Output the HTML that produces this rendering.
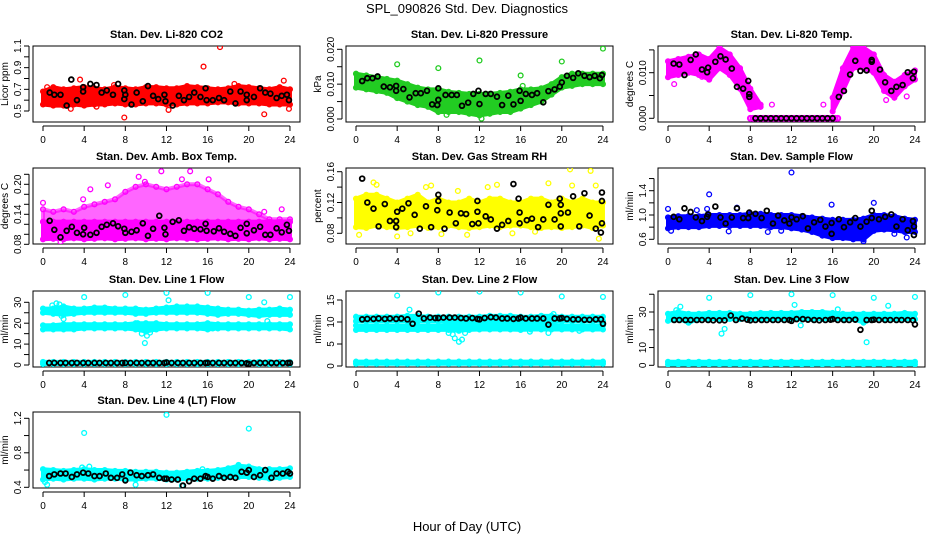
<!DOCTYPE html>
<html><head><meta charset="utf-8">
<style>
html,body{margin:0;padding:0;background:#fff;}
svg{display:block;font-family:"Liberation Sans",sans-serif;}
</style></head>
<body>
<svg id="chart" width="936" height="540" viewBox="0 0 936 540" xmlns="http://www.w3.org/2000/svg">
<rect x="0" y="0" width="936" height="540" fill="#fff"/>
<text x="467" y="13" font-size="13" text-anchor="middle">SPL_090826  Std. Dev. Diagnostics</text>
<text x="467" y="531" font-size="13" text-anchor="middle">Hour of Day (UTC)</text>
</svg>
<script>
// ---------- data ----------
var bandHours=[0,1,2,3,4,5,6,7,8,9,10,11,12,13,14,15,16,17,18,19,20,21,22,23,24];
var xTicks=[0,4,8,12,16,20,24];

var co2Lo=[0.56,0.55,0.55,0.56,0.55,0.56,0.56,0.57,0.56,0.56,0.57,0.57,0.56,0.56,0.57,0.57,0.57,0.58,0.58,0.57,0.57,0.57,0.56,0.56,0.56];
var co2Hi=[0.68,0.72,0.70,0.71,0.72,0.71,0.70,0.72,0.71,0.70,0.72,0.72,0.71,0.71,0.73,0.72,0.71,0.70,0.71,0.73,0.72,0.71,0.70,0.72,0.70];
var co2OutX=[3.6,15.6,17.2,7.9,21.5,23.4,23.9,5.2,12.2,2.7,18.6,0.4,6.9];
var co2OutY=[0.79,0.91,1.09,0.44,0.47,0.78,0.52,0.54,0.51,0.52,0.75,0.72,0.74];
var co2BlkX=[0.65,1.1,1.7,2.3,2.75,3.3,3.9,3.9,4.6,5.2,5.7,6.2,6.8,7.3,7.9,8,7.9,8.6,9.1,9.7,10.2,10.7,11.2,11.8,11.9,12.6,13.2,13.7,14.2,14.7,15.3,15.8,15.9,16.5,17.1,17.6,18.2,18.7,19.2,19.8,19.8,20.5,21.1,21.6,22.1,22.7,23.2,23.7,23.9];
var co2BlkY=[0.67,0.65,0.65,0.55,0.79,0.6,0.68,0.72,0.75,0.74,0.67,0.69,0.65,0.75,0.69,0.65,0.61,0.56,0.67,0.59,0.73,0.64,0.61,0.65,0.59,0.55,0.64,0.6,0.63,0.67,0.63,0.71,0.6,0.6,0.62,0.6,0.68,0.57,0.68,0.65,0.6,0.63,0.71,0.67,0.66,0.62,0.64,0.65,0.6];

var presLo=[.009,.0085,.008,.0075,.006,.005,.004,.0035,.002,.002,.002,.0015,.001,.0015,.002,.002,.003,.004,.005,.007,.009,.0095,.010,.010,.010];
var presHi=[.013,.0125,.012,.0115,.011,.010,.009,.0085,.0085,.0078,.0075,.0072,.0072,.0072,.0075,.0078,.0085,.0085,.0088,.010,.012,.013,.013,.013,.013];
var presOutX=[4,8,12,16,20,24,12.2,8.8,16.2];
var presOutY=[.0157,.0146,.0168,.0125,.0165,.0202,.0001,.0012,.0095];
var presBlkX=[0.6,1.1,1.6,2.1,2.7,3.3,3.9,3.9,4.6,5.2,5.8,6.3,6.9,7.4,7.9,8,8,8.7,9.3,9.8,10.3,10.9,11.4,11.9,12,12.6,13.1,13.7,14.2,14.8,15.3,15.9,16,16.5,17.1,17.6,18.2,18.7,19.3,19.8,20,20.5,21.1,21.6,22.2,22.7,23.2,23.7,23.9];
var presBlkY=[.0109,.0117,.0117,.0122,.0093,.0091,.0095,.0081,.0086,.0062,.0074,.0074,.0081,.0042,.004,.0088,.0055,.0069,.0069,.0069,.0038,.0047,.0072,.0081,.0043,.0072,.0072,.0064,.004,.0067,.0042,.0081,.0052,.0072,.0069,.0074,.0048,.008,.0085,.0093,.0105,.0124,.0118,.0131,.0124,.012,.0124,.0117,.0126];

var tempLo=[.009,.0095,.010,.0095,.0085,.011,.0095,.0065,.002,.0025,null,null,null,null,null,null,.0015,.006,.011,.011,.010,.006,.0045,.007,.0085];
var tempHi=[.0125,.013,.0135,.014,.013,.0155,.014,.011,.0065,.003,null,null,null,null,null,null,.0045,.011,.0155,.0155,.014,.0095,.008,.0095,.0105];
var tempOutX=[0.6,10.1,15.1,21.2,23.2,3.3,4.0];
var tempOutY=[.0075,.003,.003,.004,.0048,.0091,.0085];
var tempZeroX=[8,8.25,8.5,8.75,9,9.25,9.5,9.75,10,10.25,10.5,10.75,11,11.25,11.5,11.75,12,12.25,12.5,12.75,13,13.25,13.5,13.75,14,14.25,14.5,14.75,15,15.25,15.5,15.75,16,16.25,16.5];
var tempBlkX=[0.55,1.1,1.6,2.2,2.7,3.3,3.8,3.9,4.6,5.1,5.6,6.2,6.7,7.3,7.8,7.9,7.9,8.5,9,9.5,10,10.5,11,11.5,12,12.5,13,13.5,14,14.5,15,15.5,16,16.6,17.1,17.7,18.2,18.7,19.3,19.8,19.8,20.6,21.1,21.7,22.2,22.8,23.3,23.8,23.9];
var tempBlkY=[.012,.0118,.0095,.0128,.014,.0107,.0101,.0111,.0124,.0136,.0129,.0109,.0069,.0065,.0082,.0053,.0047,0,0,0,0,0,0,0,0,0,0,0,0,0,0,0,0,.0047,.006,.0096,.0126,.0104,.0105,.0128,.0124,.0107,.0079,.006,.0069,.0073,.0101,.0088,.0102];

var ambLo=[.09,.091,.09,.092,.09,.091,.092,.09,.091,.092,.09,.091,.09,.092,.091,.09,.091,.092,.09,.091,.09,.092,.09,.091,.09];
var ambMid=[.125,.125,.125,.125,.125,.125,.125,.125,.125,.125,.125,.125,.125,.125,.125,.125,.125,.125,.125,.125,.125,.125,.125,.125,.125];
var ambHi=[.15,.145,.15,.145,.155,.16,.165,.17,.185,.195,.20,.195,.19,.195,.20,.20,.19,.18,.165,.155,.15,.14,.13,.13,.13];
var ambOutX=[0,4.6,3.9,6.3,9.3,11.5,14.3,13.5,16.1,21.5,23.2,8.5,1.7,9.9];
var ambOutY=[.163,.19,.17,.198,.215,.226,.226,.21,.21,.145,.15,.073,.085,.205];
var ambBlkX=[0.65,1.1,1.7,2.3,2.8,3.3,3.9,4,4.6,5.2,5.7,6.2,6.8,7.3,7.9,8,8.6,9.1,9.7,10.2,10.7,11.3,11.8,11.9,12.6,13.2,13.7,14.2,14.7,15.3,15.8,15.9,16.6,17.1,17.6,18.2,18.7,19.2,19.8,19.8,20.5,21.1,21.6,22.1,22.7,23.2,23.7,23.9];
var ambBlkY=[.127,.109,.094,.107,.115,.103,.1,.113,.099,.103,.115,.119,.122,.116,.111,.103,.105,.108,.122,.097,.111,.137,.113,.1,.125,.128,.107,.114,.111,.11,.121,.107,.106,.112,.105,.101,.097,.113,.121,.102,.108,.115,.099,.099,.112,.104,.119,.107];

var rhLo=[.088,.087,.09,.088,.087,.088,.09,.087,.088,.09,.088,.087,.088,.09,.088,.09,.09,.088,.087,.088,.087,.088,.09,.087,.09];
var rhHi=[.125,.13,.13,.125,.12,.125,.13,.12,.125,.12,.12,.125,.12,.125,.125,.12,.12,.125,.125,.12,.125,.12,.125,.12,.12];
var rhOutX=[1.7,2,7.3,13.7,18.7,20.8,22.8,23.3,23.6,4,9.9,6.8,12.8,21,0.3,5.3,8.3,15.2,10.8,17.4];
var rhOutY=[.146,.143,.142,.143,.145,.163,.161,.142,.073,.076,.135,.14,.14,.142,.078,.08,.079,.08,.078,.082];
var rhBlkX=[0.6,1.1,1.7,2.2,2.8,3.3,3.9,3.9,4,4.5,5.1,5.7,6.2,6.8,7.3,7.9,8,8,8.6,9.1,9.7,10.2,10.7,11.3,11.8,11.8,11.9,12.6,13.1,13.7,14.2,14.8,15.3,15.8,15.9,15.9,16.6,17.1,17.7,18.2,18.7,19.3,19.8,19.9,19.9,19.9,20.6,21.1,21.7,22.2,22.7,23.3,23.9,23.9,23.9,23.8];
var rhBlkY=[.151,.12,.112,.089,.118,.096,.096,.088,.108,.112,.119,.104,.086,.115,.088,.11,.13,.122,.086,.107,.093,.106,.105,.092,.122,.108,.093,.102,.098,.086,.091,.096,.144,.125,.107,.093,.097,.099,.088,.098,.117,.098,.125,.117,.106,.089,.107,.128,.089,.132,.103,.086,.122,.133,.093,.081];

var sfLo=[.78,.8,.8,.8,.82,.82,.82,.82,.82,.82,.8,.8,.78,.76,.72,.66,.62,.62,.6,.6,.74,.76,.75,.72,.72];
var sfHi=[.96,.98,.98,.98,1.0,1.0,1.0,1.0,1.02,1.02,1.0,1.0,1.0,.98,.96,.94,.92,.92,.92,.94,1.0,1.0,.98,.94,.92];
var sfOutX=[0,4,3.8,2.8,6.7,12,15.9,20,0.3,5.9,9.7,19,23.2,22,11];
var sfOutY=[1.1,1.34,1.1,1.08,1.12,1.7,1.17,1.2,.74,.73,.72,.57,.63,.69,.74];
var sfBlkX=[0.55,1.1,1.6,2.2,2.7,3.3,3.8,3.9,4.6,5.1,5.6,6.2,6.7,7.3,7.8,7.9,8.5,9.1,9.6,10.2,10.7,11.3,11.8,12,12.5,13.1,13.6,14.2,14.8,15.3,15.9,15.9,16.6,17.1,17.7,18.2,18.7,19.3,19.8,19.8,20.5,21.1,21.7,22.2,22.8,23.3,23.8,23.9,23.9];
var sfBlkY=[.97,.93,1.11,1.05,.96,.9,.97,1.01,1.14,.96,.86,.96,1.11,.95,.95,1.04,1.02,.95,1.07,.86,.99,.91,.86,.96,.93,.98,.78,.88,.92,.81,.87,.69,.93,.8,.88,.95,.81,.89,1.07,.95,.93,.97,1.01,.81,.93,.75,.9,.81,.67];

var flowBlkX=[0.6,1.1,1.7,2.2,2.8,3.3,3.9,4.4,5.0,5.5,6.1,6.6,7.2,7.7,8.0,8.5,9.1,9.6,10.2,10.7,11.3,11.8,12.0,12.5,13.1,13.6,14.2,14.7,15.3,15.8,16.0,16.5,17.1,17.6,18.2,18.7,19.3,19.8,20.0,20.5,21.1,21.6,22.2,22.7,23.3,23.8,24.0];

var l1UpLo=[25,24.5,24,24.5,25,25,25,25,25,24.5,24.5,25,25,25,25,25,24.5,24,24.5,24.5,24,23.5,24,24,24];
var l1UpHi=[27,27,28,27,27,27.5,27.5,27,27,27,26.5,27,27.5,28,28,28,27.5,27,26.5,26.5,26,26.5,26.5,27,26.5];
var l1MidLo=[17,17,17,17,17.5,17.5,17.5,17.5,17.5,17,16,17,17.5,17.5,17.5,17.5,17,17.5,17.5,17.5,17.5,17.5,17.5,17.5,17];
var l1MidHi=[19,19,19.5,19.5,19.5,19.5,19.5,19.5,19.5,20,20,20,19.5,19.5,19.5,19.5,20,19.5,19.5,19.5,19.5,19.5,19.5,19.5,19.5];
var l1BotLo=[0.5,0.5,0.5,0.5,0.5,0.5,0.5,0.5,0.5,0.5,0.5,0.5,0.5,0.5,0.5,0.5,0.5,0.5,0.5,0.5,0.5,0.5,0.5,0.5,0.5];
var l1BotHi=[1.5,1.5,1.5,1.5,1.5,1.5,1.5,1.5,1.5,1.5,1.5,1.5,1.5,1.5,1.5,1.5,1.5,1.5,1.5,1.5,1.5,1.5,1.5,1.5,1.5];
var l1OutX=[4,8,12,16,20,24,12.2,9.9,21.5,1.6,10.1,0.9,1.3,9.6,10.4,9.2,2.0,1.8,16.5,21.8];
var l1OutY=[32.5,33.5,34.5,34.5,32.5,32.5,31,10.5,30,29,14,28.5,29.5,15,15.5,20,22,23.5,17.5,21];
var l1BlkY=[1,1,1,1,1,1,1,1,1,1,1,1,1,1,1,1,1,1,1,1,1,1,1.2,1,1,1,1,1,1,1,1,1,1,1,1,1,1,0.8,0.5,1,1,1,1,1,1,1,1];

var l2UpLo=[10.2,10.2,10.2,10.2,10.2,10.2,10.2,10.2,10.2,10.2,10.2,10.2,10.2,10.2,10.2,10.2,10.2,10.2,10.2,10.2,10.2,10.2,10.2,10.2,10.2];
var l2UpHi=[11.2,11.2,11.2,11.2,11.2,11.4,11.4,11.2,11.2,11.2,11.2,11.2,11.2,11.4,11.4,11.4,11.2,11.2,11.4,11.4,11.2,11.2,11.2,11.2,11.2];
var l2LoLo=[8.2,8.2,8.2,8.2,8.2,8.2,8.2,8.2,8.2,8.2,8.0,8.2,8.3,8.3,8.3,8.3,8.2,8.3,8.3,8.3,8.3,8.3,8.3,8.3,8.3];
var l2LoHi=[9.2,9.2,9.2,9.2,9.2,9.2,9.2,9.2,9.2,9.4,9.4,9.4,9.4,9.4,9.4,9.4,9.4,9.4,9.4,9.4,9.2,9.2,9.2,9.2,9.2];
var l2BotLo=[0.5,0.5,0.5,0.5,0.5,0.5,0.5,0.5,0.5,0.5,0.5,0.5,0.5,0.5,0.5,0.5,0.5,0.5,0.5,0.5,0.5,0.5,0.5,0.5,0.5];
var l2BotHi=[1.0,1.0,1.0,1.0,1.0,1.0,1.0,1.0,1.0,1.0,1.0,1.0,1.0,1.0,1.0,1.0,1.0,1.0,1.0,1.0,1.0,1.0,1.0,1.0,1.0];
var l2OutX=[4,8,12,16,20,24,5.2,9.6,10,18.7,21.7,16.9,9.4,19.2,10.3,10.6,9.0];
var l2OutY=[16,16.7,16.9,16.7,15.8,15.7,12.8,6.3,5.5,7.5,8,7.8,7.2,11.8,6,7.5,7.5];
var l2BlkY=[10.6,10.7,10.7,10.8,10.7,10.8,10.7,10.8,10.6,9.6,11.9,10.8,11.0,10.9,10.9,11.0,11.0,11.0,10.9,10.8,10.9,10.7,10.6,10.9,11.1,11.0,10.8,10.8,10.7,10.8,11.0,10.8,10.8,10.8,10.8,9.4,10.8,10.8,10.9,10.7,10.6,10.6,10.5,10.5,10.6,10.6,9.6];

var l3UpLo=[25,26,24,26,26,26,26,26,26,26,26,26,26,26,26,26,26,26,26,24,26,26,26,26,26];
var l3UpHi=[29,30,29,29,29.5,29.5,29.5,29,29,29.5,29.5,29.5,29.5,30,30,30,29.5,29,29,29,29,29,29,29.5,29];
var l3BotLo=[0.5,0.5,0.5,0.5,0.5,0.5,0.5,0.5,0.5,0.5,0.5,0.5,0.5,0.5,0.5,0.5,0.5,0.5,0.5,0.5,0.5,0.5,0.5,0.5,0.5];
var l3BotHi=[2,2,2,2,2,2,2,2,2,2,2,2,2,2,2,2,2,2,2,2,2,2,2,2,2];
var l3OutX=[4,8,12,16,20,24,12.3,21.4,1.2,0.8,5.2,19.3,16.5,5.5,12.9];
var l3OutY=[38,39.5,40,39.5,38,38.5,34,33.5,33,31,17.8,13,31.5,20.5,22.5];
var l3BlkY=[25.5,25.5,25.5,25.5,25.5,25.5,25.5,25.3,25.3,25.3,28,25.5,26.3,25.7,25.3,25.5,25.5,25.5,25.5,25.5,25.5,25.5,25,26,26,25.7,25.5,25.3,25.5,25.7,26,25.5,25.5,25.5,25.7,20,25.5,25.5,25.7,25.5,25.5,25.5,25.5,25.5,25.5,25.3,23];

var l4Lo=[0.49,0.5,0.49,0.5,0.5,0.49,0.5,0.5,0.49,0.49,0.5,0.5,0.49,0.49,0.5,0.5,0.5,0.51,0.52,0.52,0.52,0.51,0.5,0.51,0.52];
var l4Hi=[0.61,0.6,0.59,0.6,0.61,0.6,0.6,0.59,0.59,0.58,0.58,0.58,0.57,0.57,0.58,0.59,0.59,0.6,0.62,0.65,0.64,0.61,0.61,0.61,0.62];
var l4OutX=[4,12,20,0.4,9,13.5,19,3.8,4.5,15.5,0.2];
var l4OutY=[1.03,1.24,1.08,0.43,0.43,0.42,0.66,0.63,0.64,0.61,0.46];
var l4BlkY=[0.53,0.55,0.56,0.56,0.52,0.55,0.57,0.56,0.53,0.53,0.56,0.51,0.51,0.55,0.48,0.57,0.54,0.53,0.54,0.55,0.51,0.5,0.5,0.49,0.49,0.42,0.47,0.5,0.5,0.53,0.52,0.5,0.53,0.51,0.52,0.51,0.58,0.57,0.6,0.52,0.54,0.6,0.51,0.56,0.56,0.58,0.56];

// ---------- layout ----------
var svg=document.getElementById('chart');
var NS='http://www.w3.org/2000/svg';
var colLeft=[33,346,658], rowTop=[46,168,291,412], BOXW=267, BOXH=76;
function mk(tag,attrs,parent){var e=document.createElementNS(NS,tag);for(var k in attrs)e.setAttribute(k,attrs[k]);(parent||svg).appendChild(e);return e;}

function makePanel(spec){
  var L=colLeft[spec.col], T=rowTop[spec.row];
  var g=mk('g',{});
  
  
  var xs=function(h){return L+10+h*10.29;};
  var ys=function(v){return spec.y1+(v-spec.v1)*(spec.y2-spec.y1)/(spec.v2-spec.v1);};
  var box=mk('rect',{x:L,y:T,width:BOXW,height:BOXH,fill:'none',stroke:'#000','stroke-width':1},g);
  
  
  var t=mk('text',{x:L+BOXW/2,y:T-8,'font-size':11,'font-weight':'bold','text-anchor':'middle'},g);
  t.textContent=spec.title;
  
  
  var B=T+BOXH;
  var xa=mk('g',{},g);
  
  
  mk('line',{x1:xs(xTicks[0]),x2:xs(xTicks[xTicks.length-1]),y1:B+4,y2:B+4,stroke:'#000'},xa);
  xTicks.forEach(function(h){
    mk('line',{x1:xs(h),x2:xs(h),y1:B+4,y2:B+9,stroke:'#000'},xa);
    var tl=mk('text',{x:xs(h),y:B+21,'font-size':10,'text-anchor':'middle'},xa);
    tl.textContent=String(h);
    
    
  });
  var ya=mk('g',{},g);
  
  
  var yt=spec.yTicks;
  mk('line',{x1:L-4,x2:L-4,y1:ys(yt[0]),y2:ys(yt[yt.length-1]),stroke:'#000'},ya);
  yt.forEach(function(v){mk('line',{x1:L-9,x2:L-4,y1:ys(v),y2:ys(v),stroke:'#000'},ya);});
  spec.yLabels.forEach(function(s,i){
    var y=ys(spec.yLabelVals[i]);
    var tl=mk('text',{x:L-12,y:y,'font-size':10,'text-anchor':'middle',transform:'rotate(-90 '+(L-12)+' '+y+')'},ya);
    tl.textContent=s;
    
    
  });
  var yl=mk('text',{x:L-25,y:T+BOXH/2,'font-size':10,'text-anchor':'middle',transform:'rotate(-90 '+(L-25)+' '+(T+BOXH/2)+')'},g);
  yl.textContent=spec.ylab;
  
  
  var clipId='clip-'+spec.name;
  var cp=mk('clipPath',{id:clipId},g);
  mk('rect',{x:L,y:T,width:BOXW,height:BOXH},cp);
  var dg=mk('g',{'clip-path':'url(#'+clipId+')'},g);
  return {xs:xs,ys:ys,g:dg,name:spec.name};
}

function band(P,lo,hi,color,label,op){
  var seg=[];
  var segs=[];
  for(var i=0;i<bandHours.length;i++){
    if(lo[i]===null){if(seg.length)segs.push(seg);seg=[];}else seg.push(i);
  }
  if(seg.length)segs.push(seg);
  segs.forEach(function(s){
    var pts=[];
    s.forEach(function(i){pts.push(P.xs(bandHours[i])+','+P.ys(hi[i]));});
    s.slice().reverse().forEach(function(i){pts.push(P.xs(bandHours[i])+','+P.ys(lo[i]));});
    var poly=mk('polygon',{points:pts.join(' '),fill:color,'fill-opacity':(op||1),stroke:color,'stroke-opacity':(op||1),'stroke-width':4,'stroke-linejoin':'round'},P.g);
    
    
    s.forEach(function(i){
      [lo[i],hi[i]].forEach(function(v){
        var c=mk('circle',{cx:P.xs(bandHours[i]),cy:P.ys(v),r:2.4,fill:'none',stroke:color,'stroke-width':1.3},P.g);
        
        
      });
    });
  });
}
function pts(P,xsArr,ysArr,color,w,label){
  for(var i=0;i<xsArr.length;i++){
    var c=mk('circle',{cx:P.xs(xsArr[i]),cy:P.ys(ysArr[i]),r:2.4,fill:'none',stroke:color,'stroke-width':w},P.g);
    
    
  }
}
function zeroArr(n,v){var a=[];for(var i=0;i<n;i++)a.push(v);return a;}

var RED='#ff0000',GRN='#22cc22',MAG='#ff00ff',YEL='#ffff00',BLU='#0000ff',CYN='#00ffff',BLK='#000';
var BW=1.8;

var P;
P=makePanel({name:'co2',title:'Stan. Dev. Li-820 CO2',ylab:'Licor ppm',col:0,row:0,v1:1.1,y1:46,v2:0.5,y2:111,yTicks:[0.5,0.6,0.7,0.8,0.9,1.0,1.1],yLabels:['0.5','0.7','0.9','1.1'],yLabelVals:[0.5,0.7,0.9,1.1]});
band(P,co2Lo,co2Hi,RED,'co2-cloud');pts(P,co2OutX,co2OutY,RED,1.3,'co2-point');pts(P,co2BlkX,co2BlkY,BLK,BW,'co2-hourly-point');

P=makePanel({name:'pressure',title:'Stan. Dev. Li-820 Pressure',ylab:'kPa',col:1,row:0,v1:0.020,y1:49.3,v2:0,y2:119,yTicks:[0,0.005,0.010,0.015,0.020],yLabels:['0.000','0.010','0.020'],yLabelVals:[0,0.010,0.020]});
band(P,presLo,presHi,GRN,'pressure-cloud');pts(P,presOutX,presOutY,GRN,1.3,'pressure-point');pts(P,presBlkX,presBlkY,BLK,BW,'pressure-hourly-point');

P=makePanel({name:'temp',title:'Stan. Dev. Li-820 Temp.',ylab:'degrees C',col:2,row:0,v1:0.010,y1:72.7,v2:0,y2:118.3,yTicks:[0,0.005,0.010,0.015],yLabels:['0.000','0.010'],yLabelVals:[0,0.010]});
band(P,tempLo,tempHi,MAG,'temp-cloud');pts(P,tempOutX,tempOutY,MAG,1.3,'temp-point');pts(P,tempZeroX,zeroArr(tempZeroX.length,0),MAG,2,'temp-zero-point');pts(P,tempBlkX,tempBlkY,BLK,BW,'temp-hourly-point');

P=makePanel({name:'amb-box',title:'Stan. Dev. Amb. Box Temp.',ylab:'degrees C',col:0,row:1,v1:0.20,y1:184.3,v2:0.08,y2:244.3,yTicks:[0.08,0.10,0.12,0.14,0.16,0.18,0.20,0.22],yLabels:['0.08','0.14','0.20'],yLabelVals:[0.08,0.14,0.20]});
band(P,ambMid,ambHi,MAG,'amb-upper-cloud',0.6);band(P,ambLo,ambMid,MAG,'amb-lower-cloud');pts(P,ambOutX,ambOutY,MAG,1.3,'amb-point');pts(P,ambBlkX,ambBlkY,BLK,BW,'amb-hourly-point');

P=makePanel({name:'rh',title:'Stan. Dev. Gas Stream RH',ylab:'percent',col:1,row:1,v1:0.16,y1:171.7,v2:0.08,y2:233.3,yTicks:[0.08,0.10,0.12,0.14,0.16],yLabels:['0.08','0.12','0.16'],yLabelVals:[0.08,0.12,0.16]});
band(P,rhLo,rhHi,YEL,'rh-cloud');pts(P,rhOutX,rhOutY,YEL,1.3,'rh-point');pts(P,rhBlkX,rhBlkY,BLK,BW,'rh-hourly-point');

P=makePanel({name:'sample-flow',title:'Stan. Dev. Sample Flow',ylab:'ml/min',col:2,row:1,v1:1.4,y1:190.7,v2:0.6,y2:239.3,yTicks:[0.6,0.8,1.0,1.2,1.4,1.6],yLabels:['0.6','1.0','1.4'],yLabelVals:[0.6,1.0,1.4]});
band(P,sfLo,sfHi,BLU,'sample-flow-cloud');pts(P,sfOutX,sfOutY,BLU,1.3,'sample-flow-point');pts(P,sfBlkX,sfBlkY,BLK,BW,'sample-flow-hourly-point');

P=makePanel({name:'line1',title:'Stan. Dev. Line 1 Flow',ylab:'ml/min',col:0,row:2,v1:30,y1:302.3,v2:0,y2:365,yTicks:[0,5,10,15,20,25,30],yLabels:['0','10','20','30'],yLabelVals:[0,10,20,30]});
band(P,l1UpLo,l1UpHi,CYN,'line1-upper-cloud');band(P,l1MidLo,l1MidHi,CYN,'line1-middle-cloud');band(P,l1BotLo,l1BotHi,CYN,'line1-bottom-cloud');
pts(P,l1OutX,l1OutY,CYN,1.3,'line1-point');pts(P,flowBlkX,l1BlkY,BLK,BW,'line1-hourly-point');

P=makePanel({name:'line2',title:'Stan. Dev. Line 2 Flow',ylab:'ml/min',col:1,row:2,v1:15,y1:300,v2:0,y2:366,yTicks:[0,5,10,15],yLabels:['0','5','10','15'],yLabelVals:[0,5,10,15]});
band(P,l2UpLo,l2UpHi,CYN,'line2-upper-cloud');band(P,l2LoLo,l2LoHi,CYN,'line2-middle-cloud');band(P,l2BotLo,l2BotHi,CYN,'line2-bottom-cloud');
pts(P,l2OutX,l2OutY,CYN,1.3,'line2-point');pts(P,flowBlkX,l2BlkY,BLK,BW,'line2-hourly-point');

P=makePanel({name:'line3',title:'Stan. Dev. Line 3 Flow',ylab:'ml/min',col:2,row:2,v1:30,y1:312,v2:0,y2:365.3,yTicks:[0,10,20,30,40],yLabels:['0','10','30'],yLabelVals:[0,10,30]});
band(P,l3UpLo,l3UpHi,CYN,'line3-upper-cloud');band(P,l3BotLo,l3BotHi,CYN,'line3-bottom-cloud');
pts(P,l3OutX,l3OutY,CYN,1.3,'line3-point');pts(P,flowBlkX,l3BlkY,BLK,BW,'line3-hourly-point');

P=makePanel({name:'line4',title:'Stan. Dev. Line 4 (LT) Flow',ylab:'ml/min',col:0,row:3,v1:1.2,y1:418.3,v2:0.4,y2:487.3,yTicks:[0.4,0.6,0.8,1.0,1.2],yLabels:['0.4','0.8','1.2'],yLabelVals:[0.4,0.8,1.2]});
band(P,l4Lo,l4Hi,CYN,'line4-cloud');pts(P,l4OutX,l4OutY,CYN,1.3,'line4-point');pts(P,flowBlkX,l4BlkY,BLK,BW,'line4-hourly-point');
</script>
</body></html>
